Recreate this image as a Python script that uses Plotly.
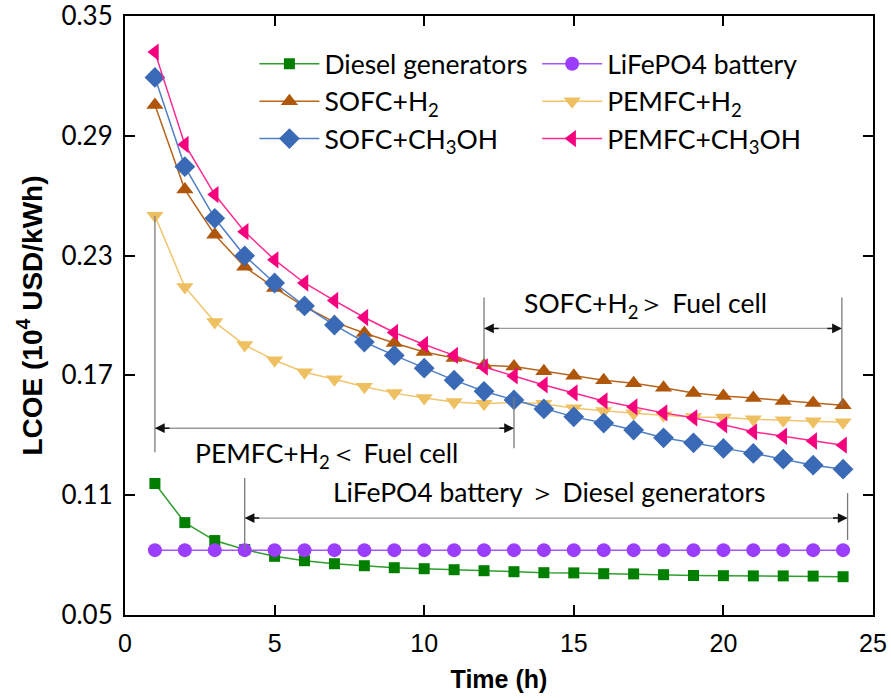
import plotly.graph_objects as go

hours = list(range(1, 25))

diesel = [0.1158, 0.0962, 0.0872, 0.0827, 0.0793, 0.0771, 0.0756, 0.0746, 0.0736, 0.0731,
          0.0726, 0.0721, 0.0716, 0.0711, 0.0710, 0.0706, 0.0705, 0.0701, 0.0697, 0.0696,
          0.0695, 0.0695, 0.0694, 0.0691]
lifepo4 = [0.0824] * 24
sofc_h2 = [0.3055, 0.2631, 0.2405, 0.2244, 0.2138, 0.2045, 0.1967, 0.1912, 0.1862, 0.1817,
           0.1787, 0.1751, 0.1744, 0.1721, 0.1698, 0.1676, 0.1660, 0.1638, 0.1612, 0.1597,
           0.1586, 0.1572, 0.1561, 0.1550]
pemfc_h2 = [0.2500, 0.2143, 0.1967, 0.1852, 0.1776, 0.1716, 0.1681, 0.1643, 0.1611, 0.1587,
            0.1567, 0.1558, 0.1565, 0.1558, 0.1535, 0.1521, 0.1510, 0.1500, 0.1491, 0.1489,
            0.1480, 0.1475, 0.1470, 0.1465]
sofc_ch3oh = [0.3193, 0.2746, 0.2487, 0.2299, 0.2163, 0.2048, 0.1952, 0.1867, 0.1800, 0.1736,
              0.1676, 0.1620, 0.1577, 0.1532, 0.1492, 0.1461, 0.1426, 0.1387, 0.1362, 0.1334,
              0.1309, 0.1280, 0.1250, 0.1230]
pemfc_ch3oh = [0.3320, 0.2857, 0.2606, 0.2420, 0.2279, 0.2163, 0.2075, 0.1990, 0.1915, 0.1855,
               0.1800, 0.1742, 0.1697, 0.1652, 0.1612, 0.1572, 0.1542, 0.1512, 0.1487, 0.1452,
               0.1417, 0.1395, 0.1371, 0.1350]

x_ticks = [0, 5, 10, 15, 20, 25]
y_ticks = [0.05, 0.11, 0.17, 0.23, 0.29, 0.35]

TXT_FONT = "Lato"
FS = 26.5

fig = go.Figure()

series = [
    ("Diesel generators", diesel, "square", 11, "#007f00", "#2e9e2e", "legend"),
    ("LiFePO4 battery", lifepo4, "circle", 14, "#9b3dfc", "#a555ff", "legend2"),
    ("SOFC+H<sub>2</sub>", sofc_h2, "triangle-up", 15, "#b0560a", "#b8651e", "legend"),
    ("PEMFC+H<sub>2</sub>", pemfc_h2, "triangle-down", 15, "#eec062", "#f0c56e", "legend2"),
    ("SOFC+CH<sub>3</sub>OH", sofc_ch3oh, "diamond", 16, "#3a6ab5", "#4f7fc5", "legend"),
    ("PEMFC+CH<sub>3</sub>OH", pemfc_ch3oh, "triangle-left", 15, "#f5007d", "#ff2a8f", "legend2"),
]
for i, (name, vals, sym, size, mcol, lcol, leg) in enumerate(series):
    fig.add_trace(go.Scatter(
        x=hours, y=vals, mode="lines+markers", name=name,
        legend=leg, legendgroup=str(i),
        line=dict(color=lcol, width=1.5),
        marker=dict(symbol=sym, size=size, color=mcol, line=dict(width=0)),
    ))

GRAY = "#7a7a7a"
def vline(x, y0, y1):
    fig.add_shape(type="line", x0=x, x1=x, y0=y0, y1=y1, xref="x", yref="y",
                  line=dict(color=GRAY, width=1.3))

def hdouble(x0, x1, y):
    fig.add_shape(type="line", x0=x0, x1=x1, y0=y, y1=y, xref="x", yref="y",
                  line=dict(color="#9a9a9a", width=1.3))
    for xe, ax in ((x0, 16), (x1, -16)):
        fig.add_annotation(x=xe, y=y, xref="x", yref="y", ax=ax, ay=0, text="",
                           showarrow=True, arrowhead=2, arrowsize=1.3, arrowwidth=1.5,
                           arrowcolor="#111111")

ann_font = dict(family=TXT_FONT, size=FS, color="black")

# SOFC+H2 > Fuel cell
vline(12, 0.2090, 0.1740)
vline(23.96, 0.2090, 0.1545)
hdouble(12, 23.96, 0.1935)
fig.add_annotation(x=17.4, y=0.2055, xref="x", yref="y", showarrow=False,
                   text="SOFC+H<sub>2</sub>＞ Fuel cell", font=ann_font)

# PEMFC+H2 < Fuel cell
vline(1, 0.2500, 0.1315)
vline(13, 0.1590, 0.1335)
hdouble(1, 13, 0.1435)
fig.add_annotation(x=6.75, y=0.1300, xref="x", yref="y", showarrow=False,
                   text="PEMFC+H<sub>2</sub>＜ Fuel cell", font=ann_font)

# LiFePO4 battery > Diesel generators
vline(4, 0.1185, 0.0826)
vline(24.15, 0.1110, 0.0875)
hdouble(4, 24.15, 0.0985)
fig.add_annotation(x=14.2, y=0.1115, xref="x", yref="y", showarrow=False,
                   text="LiFePO4 battery ＞ Diesel generators", font=ann_font)

axis_common = dict(showline=True, linecolor="black", linewidth=2, mirror="ticks",
                   ticks="inside", ticklen=10, tickwidth=2, tickcolor="black",
                   showgrid=False, zeroline=False, automargin=False,
                   ticklabeloverflow="allow", ticklabelstandoff=5)

fig.update_xaxes(range=[0, 25], tickvals=x_ticks, ticktext=[str(v) for v in x_ticks],
                 tickfont=dict(family="Liberation Sans", size=25, color="black"),
                 title=dict(text="<b>Time (h)</b>", standoff=14,
                            font=dict(family="Liberation Sans", size=25, color="black")),
                 **axis_common)
fig.update_yaxes(range=[0.0499, 0.3501], tickvals=y_ticks, ticktext=[f"{v:.2f}" for v in y_ticks],
                 tickfont=dict(family=TXT_FONT, size=26, color="black"),
                 title=dict(text="<b>LCOE (10<sup>4</sup> USD/kWh)</b>", standoff=11,
                            font=dict(family="Liberation Sans", size=28, color="black")),
                 **axis_common)

legend_font = dict(family=TXT_FONT, size=FS, color="black")
fig.update_layout(
    width=891, height=698,
    margin=dict(l=125, r=18, t=16, b=83),
    paper_bgcolor="white", plot_bgcolor="white",
    legend=dict(x=0.173, y=0.96, xanchor="left", yanchor="top", font=legend_font,
                bgcolor="rgba(0,0,0,0)", itemwidth=60, tracegroupgap=0, traceorder="grouped"),
    legend2=dict(x=0.551, y=0.96, xanchor="left", yanchor="top", font=legend_font,
                 bgcolor="rgba(0,0,0,0)", itemwidth=60, tracegroupgap=0, traceorder="grouped"),
)

fig.write_html("out.html", config={"displayModeBar": False},
               post_script="document.body.style.margin='0px';")
